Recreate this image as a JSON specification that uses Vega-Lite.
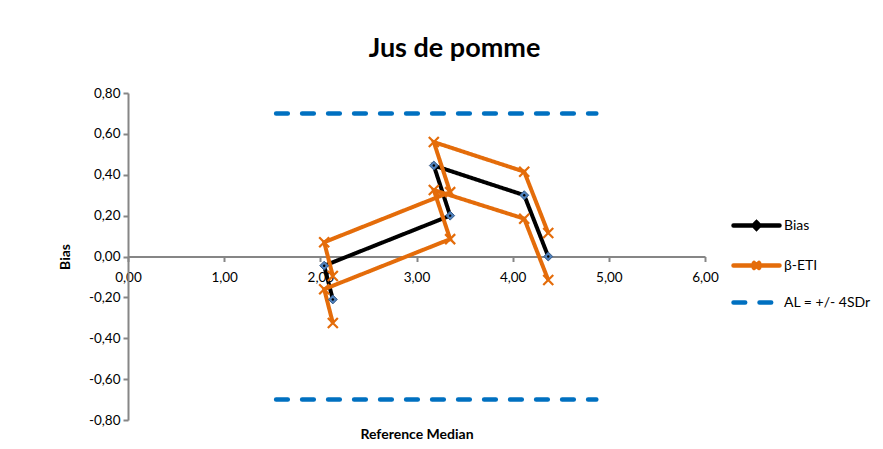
{
  "$schema": "https://vega.github.io/schema/vega-lite/v6.json",
  "width": 577,
  "height": 327,
  "autosize": "none",
  "padding": {"left": 128, "top": 93, "right": 178, "bottom": 29},
  "background": "white",
  "title": {"text": "Jus de pomme", "font": "Lato", "fontSize": 27, "fontWeight": "bold", "color": "#000000", "anchor": "middle", "dx": 38, "offset": 23},
  "config": {
    "view": {"stroke": null},
    "axis": {"grid": false, "domainColor": "#868686", "domainWidth": 2, "tickColor": "#868686", "tickWidth": 2, "tickSize": 5, "labelFont": "Lato", "labelFontSize": 13.5, "labelColor": "#000000", "titleFont": "Lato", "titleFontSize": 14, "titleFontWeight": "bold", "titleColor": "#000000", "labelOverlap": false, "labelFlush": false}
  },
  "data": {"values": [
    {"series": "Bias", "grp": "bias", "i": 1, "x": 2.13, "y": -0.21},
    {"series": "Bias", "grp": "bias", "i": 2, "x": 2.04, "y": -0.045},
    {"series": "Bias", "grp": "bias", "i": 3, "x": 3.35, "y": 0.2},
    {"series": "Bias", "grp": "bias", "i": 4, "x": 3.18, "y": 0.445},
    {"series": "Bias", "grp": "bias", "i": 5, "x": 4.12, "y": 0.3},
    {"series": "Bias", "grp": "bias", "i": 6, "x": 4.37, "y": 0.0},
    {"series": "β-ETI", "grp": "up", "i": 1, "x": 2.13, "y": -0.095},
    {"series": "β-ETI", "grp": "up", "i": 2, "x": 2.04, "y": 0.07},
    {"series": "β-ETI", "grp": "up", "i": 3, "x": 3.35, "y": 0.315},
    {"series": "β-ETI", "grp": "up", "i": 4, "x": 3.18, "y": 0.56},
    {"series": "β-ETI", "grp": "up", "i": 5, "x": 4.12, "y": 0.415},
    {"series": "β-ETI", "grp": "up", "i": 6, "x": 4.37, "y": 0.115},
    {"series": "β-ETI", "grp": "lo", "i": 1, "x": 2.13, "y": -0.325},
    {"series": "β-ETI", "grp": "lo", "i": 2, "x": 2.04, "y": -0.16},
    {"series": "β-ETI", "grp": "lo", "i": 3, "x": 3.35, "y": 0.085},
    {"series": "β-ETI", "grp": "lo", "i": 4, "x": 3.18, "y": 0.325},
    {"series": "β-ETI", "grp": "lo", "i": 5, "x": 4.12, "y": 0.185},
    {"series": "β-ETI", "grp": "lo", "i": 6, "x": 4.37, "y": -0.115},
    {"series": "AL = +/- 4SDr", "grp": "alu", "i": 1, "x": 1.54, "y": 0.7},
    {"series": "AL = +/- 4SDr", "grp": "alu", "i": 2, "x": 4.87, "y": 0.7},
    {"series": "AL = +/- 4SDr", "grp": "all", "i": 1, "x": 1.54, "y": -0.7},
    {"series": "AL = +/- 4SDr", "grp": "all", "i": 2, "x": 4.87, "y": -0.7}
  ]},
  "encoding": {
    "x": {"field": "x", "type": "quantitative", "scale": {"domain": [0, 6], "nice": false, "zero": false},
      "axis": {"values": [0, 1, 2, 3, 4, 5, 6], "offset": -163.5, "labelPadding": 9, "labelExpr": "replace(replace(format(datum.value, '.2f'), '.', ','), '−', '-')", "title": "Reference Median", "titleY": 178, "titleBaseline": "middle"}},
    "y": {"field": "y", "type": "quantitative", "scale": {"domain": [-0.8, 0.8], "nice": false, "zero": false},
      "axis": {"values": [-0.8, -0.6, -0.4, -0.2, 0, 0.2, 0.4, 0.6, 0.8], "labelPadding": 3, "labelExpr": "replace(replace(format(datum.value, '.2f'), '.', ','), '−', '-')", "title": "Bias", "titleX": -63, "titleBaseline": "middle"}}
  },
  "layer": [
    {
      "transform": [{"filter": "datum.series === 'AL = +/- 4SDr'"}],
      "mark": {"type": "line", "strokeWidth": 4.5, "strokeCap": "round"},
      "encoding": {
        "color": {"field": "series", "type": "nominal", "scale": {"domain": ["Bias", "β-ETI", "AL = +/- 4SDr"], "range": ["#000000", "#E46C0A", "#0070C0"]},
          "legend": {"title": null, "orient": "none", "legendX": 621, "legendY": 125, "padding": 0, "symbolType": "M-4.6,0H4.6", "symbolSize": 100, "symbolStrokeWidth": 4.5, "labelFont": "Lato", "labelFontSize": 14, "labelColor": "#000000", "labelOffset": 20, "rowPadding": 16,
            "encode": {"symbols": {"update": {
              "shape": {"signal": "datum.value === 'Bias' ? 'M-4.6,0H4.6M0,-0.6L0.6,0L0,0.6L-0.6,0Z' : datum.value === 'β-ETI' ? 'M-4.6,0H4.6M-0.5,-0.5L0.5,0.5M-0.5,0.5L0.5,-0.5' : 'M-4.6,0H4.6'"},
              "strokeDash": {"signal": "datum.value === 'AL = +/- 4SDr' ? [17, 9] : [1, 0]"},
              "strokeCap": {"value": "round"}}}}}},
        "strokeDash": {"field": "series", "type": "nominal", "scale": {"domain": ["Bias", "β-ETI", "AL = +/- 4SDr"], "range": [[1, 0], [1, 0], [11.7, 14.3]]}},
        "detail": {"field": "grp"},
        "order": {"field": "i", "type": "quantitative"}
      }
    },
    {
      "transform": [{"filter": "datum.series === 'Bias'"}],
      "mark": {"type": "line", "strokeWidth": 4},
      "encoding": {
        "color": {"field": "series", "type": "nominal"},
        "strokeDash": {"field": "series", "type": "nominal"},
        "detail": {"field": "grp"},
        "order": {"field": "i", "type": "quantitative"}
      }
    },
    {
      "transform": [{"filter": "datum.series === 'β-ETI'"}],
      "mark": {"type": "line", "strokeWidth": 4},
      "encoding": {
        "color": {"field": "series", "type": "nominal"},
        "strokeDash": {"field": "series", "type": "nominal"},
        "detail": {"field": "grp"},
        "order": {"field": "i", "type": "quantitative"}
      }
    },
    {
      "transform": [{"filter": "datum.series === 'β-ETI'"}],
      "mark": {"type": "point", "shape": "M-1,-1L1,1M-1,1L1,-1", "filled": false, "stroke": "#E46C0A", "strokeWidth": 2.2, "size": 100, "opacity": 1}
    },
    {
      "transform": [{"filter": "datum.series === 'Bias'"}],
      "mark": {"type": "point", "shape": "diamond", "filled": true, "fill": "#4F81BD", "stroke": "#385D8A", "strokeWidth": 1, "size": 80, "opacity": 1}
    },
    {
      "transform": [{"filter": "datum.series === 'Bias'"}],
      "mark": {"type": "point", "shape": "circle", "filled": true, "fill": "#000000", "size": 6, "opacity": 1}
    }
  ]
}
